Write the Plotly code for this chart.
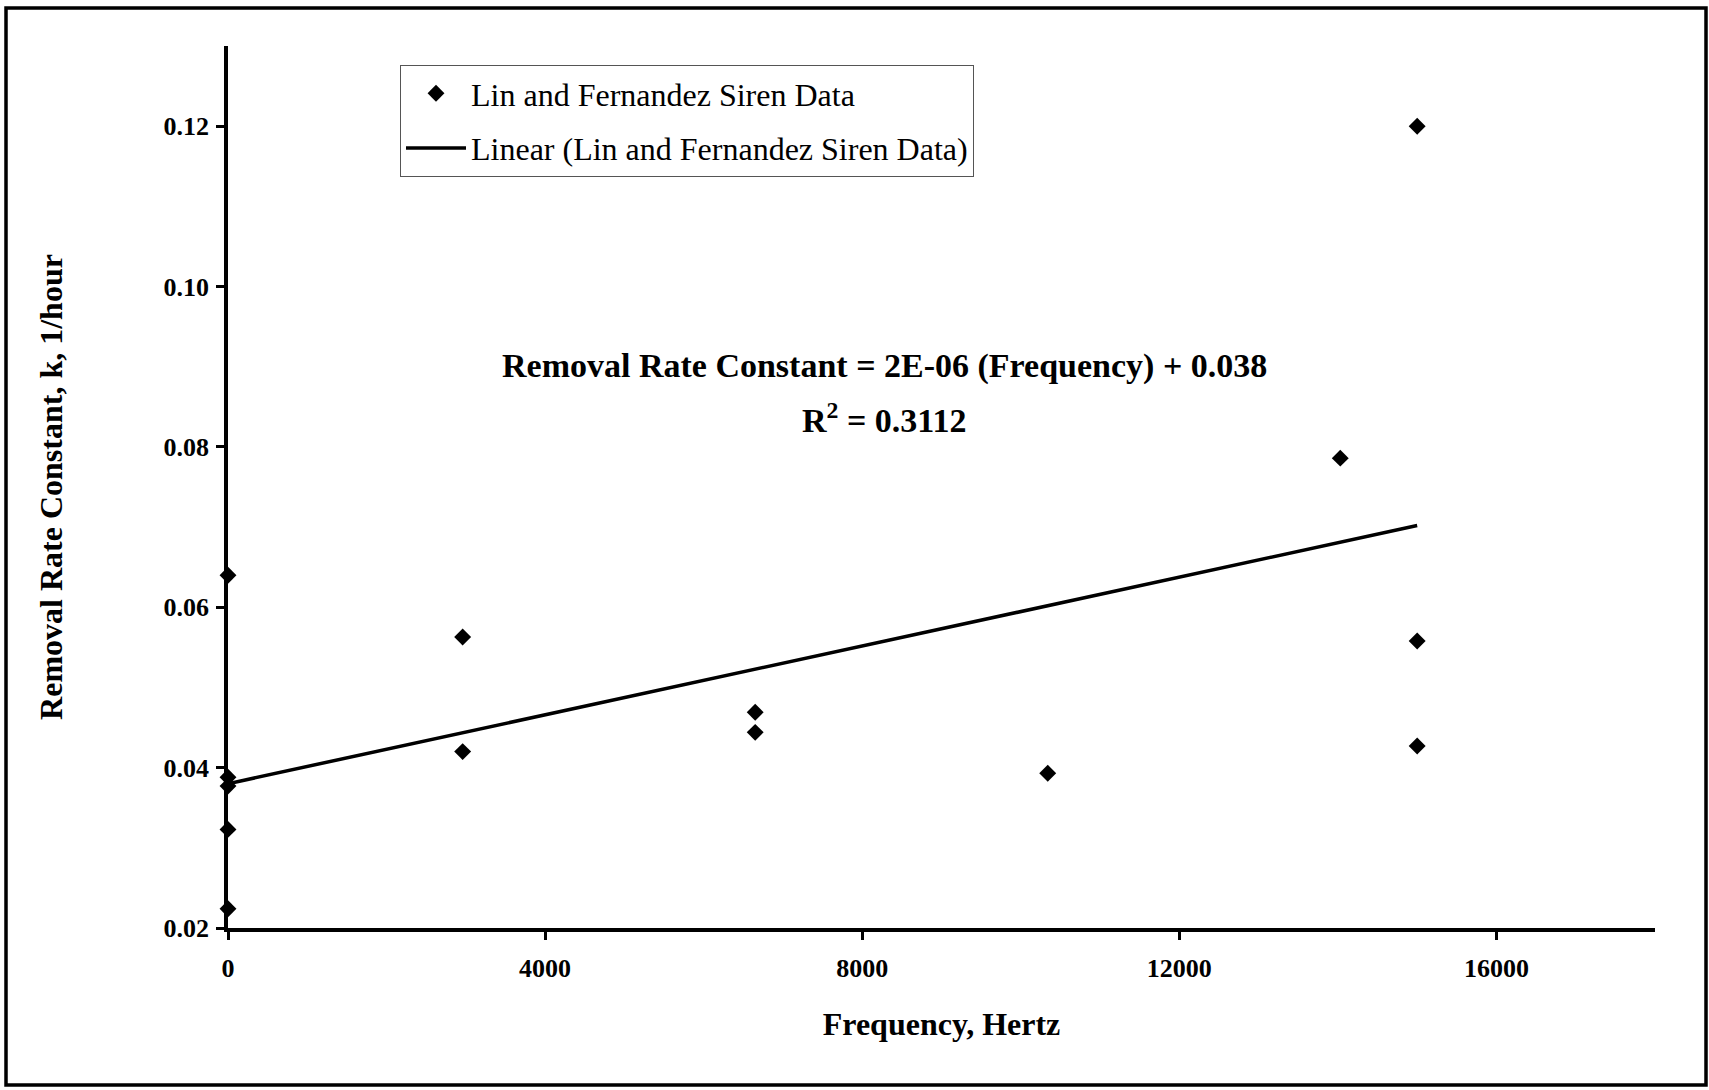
import plotly.graph_objects as go

# Data
freq_hz = [0, 0, 0, 0, 0, 2960, 2960, 6650, 6650, 10340, 14030, 15000, 15000, 15000]
rate_k = [0.0640, 0.0388, 0.0377, 0.0323, 0.0224, 0.0563, 0.0420, 0.0469, 0.0444,
          0.0393, 0.0786, 0.1200, 0.0558, 0.0427]

trend_x = [0, 15000]
trend_y = [0.0380, 0.0702]

x_ticks = [0, 4000, 8000, 12000, 16000]
y_ticks = [0.02, 0.04, 0.06, 0.08, 0.10, 0.12]

series_name = "Lin and Fernandez Siren Data"
trend_name = "Linear (Lin and Fernandez Siren Data)"
eq_text = "Removal Rate Constant = 2E-06 (Frequency) + 0.038"
r2_text = "R<sup>2</sup> = 0.3112"

FONT = "Liberation Serif, Times New Roman, serif"

W, H = 1709, 1090
ML, MR, MT, MB = 228, 54, 46, 162
PW, PH = W - ML - MR, H - MT - MB

fig = go.Figure()
fig.add_trace(go.Scatter(
    x=freq_hz, y=rate_k, mode="markers", name=series_name, legendgroup="a",
    marker=dict(symbol="diamond", size=13, color="black"), cliponaxis=False))
fig.add_trace(go.Scatter(
    x=trend_x, y=trend_y, mode="lines", name=trend_name, legendgroup="b",
    line=dict(color="black", width=3.5), cliponaxis=False))

def px_to_paper_x(px):
    return (px - ML) / PW

def px_to_paper_y(py):
    return (H - MB - py) / PH

fig.add_shape(type="rect", xref="paper", yref="paper",
              x0=px_to_paper_x(6), x1=px_to_paper_x(1706),
              y0=px_to_paper_y(1085), y1=px_to_paper_y(8),
              line=dict(color="black", width=3.5), layer="below")

fig.add_annotation(xref="x", yref="paper", x=8280, y=px_to_paper_y(366),
                   text=eq_text, showarrow=False,
                   font=dict(family=FONT, size=34, color="black", weight="bold"))
fig.add_annotation(xref="x", yref="paper", x=8280, y=px_to_paper_y(418),
                   text=r2_text, showarrow=False,
                   font=dict(family=FONT, size=34, color="black", weight="bold"))

fig.update_layout(
    width=W, height=H,
    margin=dict(l=ML, r=MR, t=MT, b=MB),
    paper_bgcolor="white", plot_bgcolor="white",
    font=dict(family=FONT, color="black"),
    showlegend=True,
    legend=dict(x=px_to_paper_x(400), y=px_to_paper_y(65), xanchor="left", yanchor="top",
                bordercolor="#555", borderwidth=1, bgcolor="white",
                font=dict(family=FONT, size=32, color="black"),
                traceorder="grouped", tracegroupgap=10, itemwidth=60),
    xaxis=dict(range=[0, 18000], tickvals=x_ticks, tickformat="d",
               showline=True, linecolor="black", linewidth=3.5,
               ticks="outside", ticklen=8, tickwidth=3, tickcolor="black",
               ticklabelstandoff=6,
               showgrid=False, zeroline=False,
               tickfont=dict(family=FONT, size=26, color="black", weight="bold"),
               title=dict(text="Frequency, Hertz", standoff=32,
                          font=dict(family=FONT, size=32, color="black", weight="bold"))),
    yaxis=dict(range=[0.02, 0.13], tickvals=y_ticks, tickformat=".2f",
               showline=True, linecolor="black", linewidth=3.5,
               ticks="outside", ticklen=8, tickwidth=3, tickcolor="black",
               ticklabelstandoff=2,
               showgrid=False, zeroline=False,
               tickfont=dict(family=FONT, size=26, color="black", weight="bold"),
               title=dict(text="Removal Rate Constant, k, 1/hour", standoff=92,
                          font=dict(family=FONT, size=32, color="black", weight="bold"))),
)

fig.write_html("out.html")
